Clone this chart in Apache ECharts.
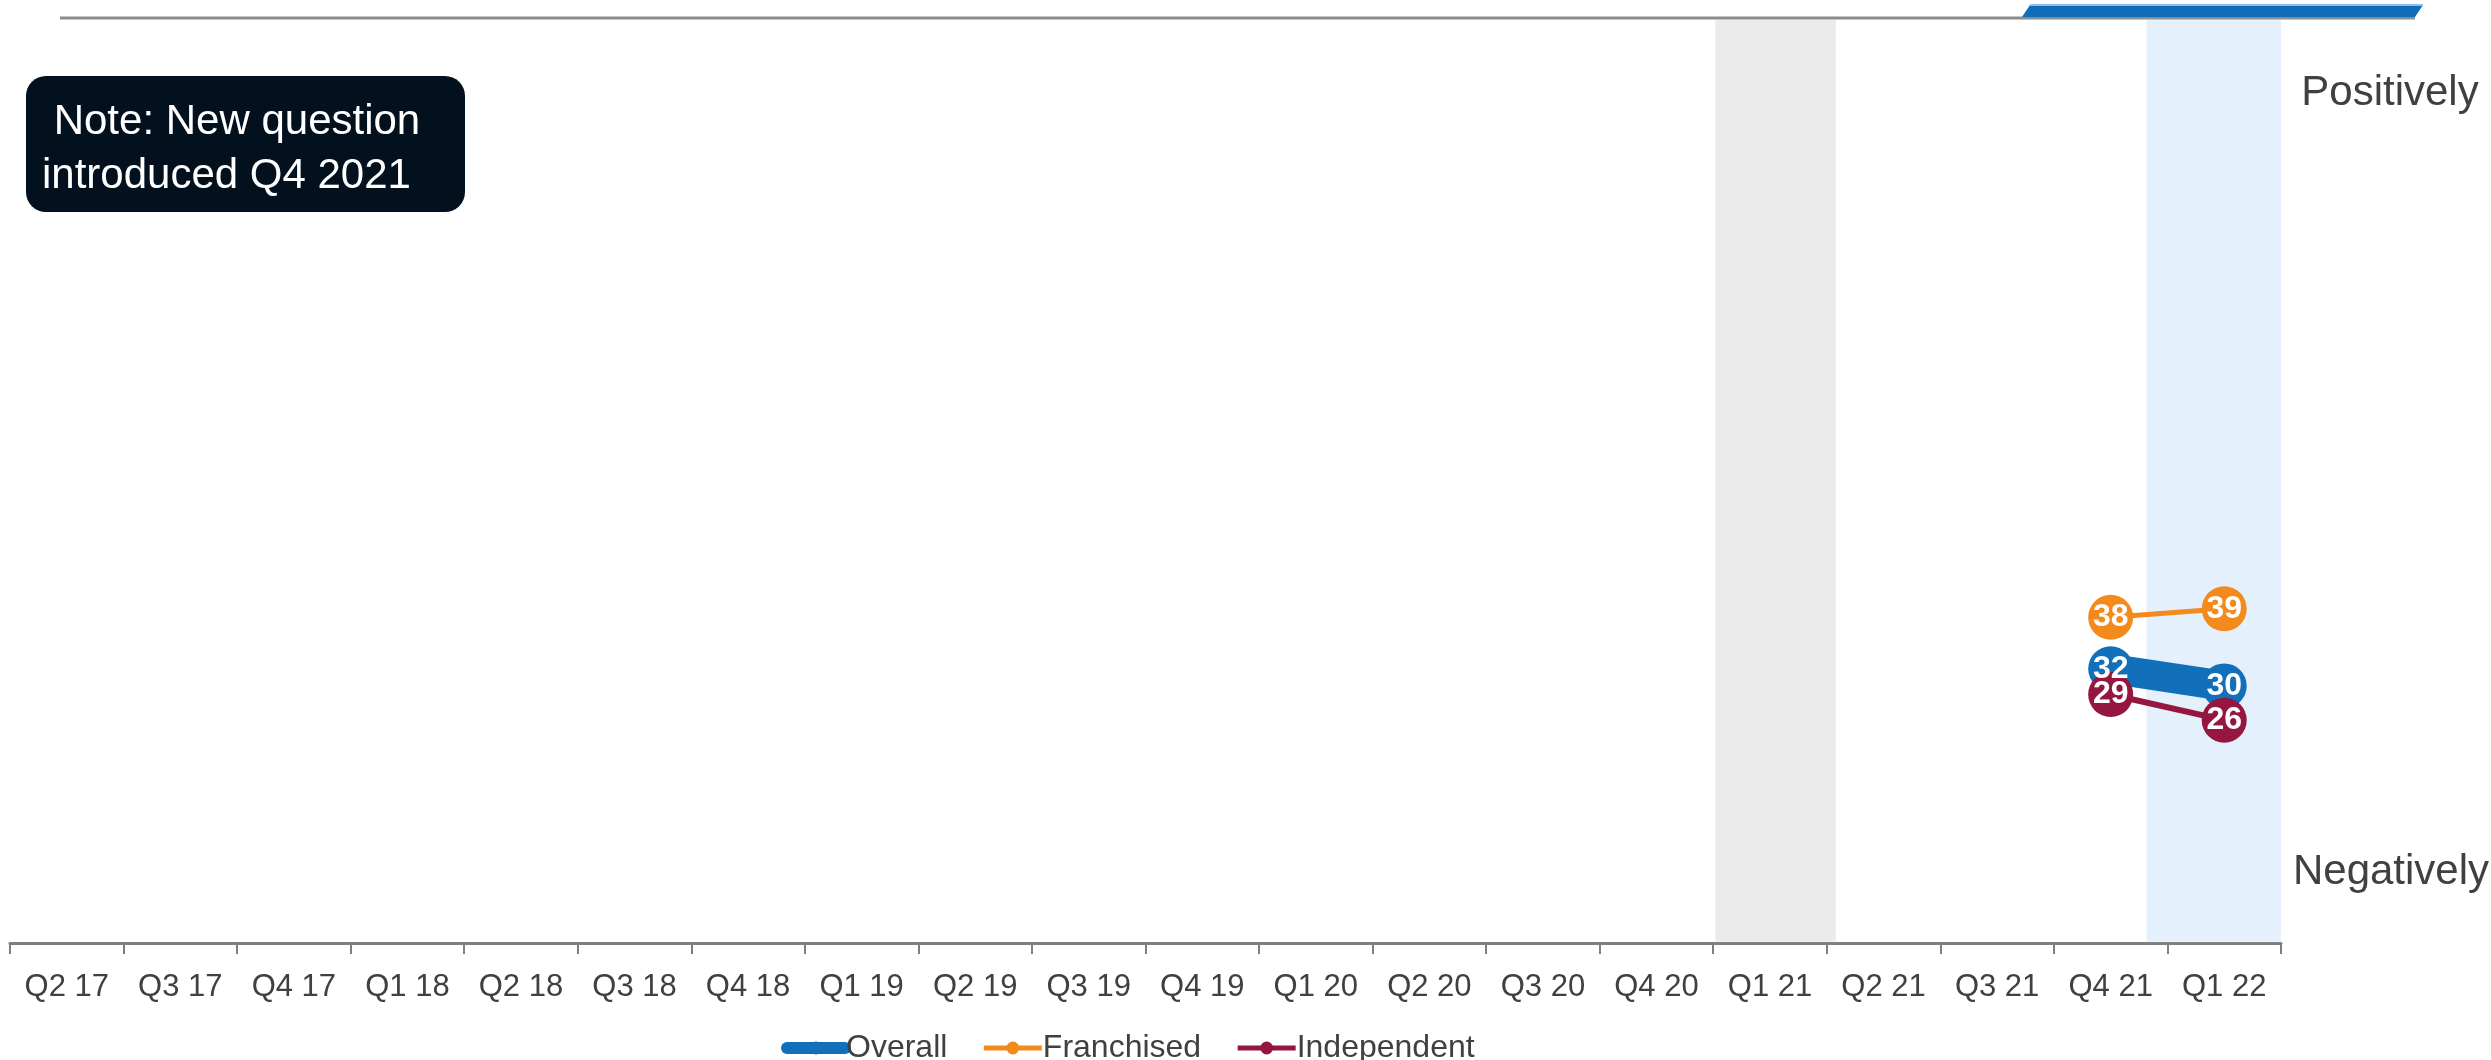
<!DOCTYPE html>
<html>
<head>
<meta charset="utf-8">
<script src="https://cdn.jsdelivr.net/npm/echarts@6/dist/echarts.min.js"></script>
<style>
  html, body { margin: 0; padding: 0; background: #ffffff; }
  #chart { width: 2491px; height: 1060px; }
</style>
</head>
<body>
<div id="chart"></div>
<script>
// ---- data ----
const categories = ['Q2 17', 'Q3 17', 'Q4 17', 'Q1 18', 'Q2 18', 'Q3 18', 'Q4 18',
  'Q1 19', 'Q2 19', 'Q3 19', 'Q4 19', 'Q1 20', 'Q2 20', 'Q3 20', 'Q4 20',
  'Q1 21', 'Q2 21', 'Q3 21', 'Q4 21', 'Q1 22'];
const seriesNames = ['Overall', 'Franchised', 'Independent'];
const overall = [null, null, null, null, null, null, null, null, null, null,
  null, null, null, null, null, null, null, null, 32, 30];
const franchised = [null, null, null, null, null, null, null, null, null, null,
  null, null, null, null, null, null, null, null, 38, 39];
const independent = [null, null, null, null, null, null, null, null, null, null,
  null, null, null, null, null, null, null, null, 29, 26];
const greyPeriods = ['Q1 21'];
const bluePeriods = ['Q1 22'];
const topLabel = 'Positively';
const bottomLabel = 'Negatively';
const noteLines = [' Note: New question', 'introduced Q4 2021'];

// ---- styles ----
const FONT = '"Liberation Sans", Arial, Helvetica, sans-serif';
const TEXT = '#404040';
const C_OVERALL = '#1170b9';
const C_FRAN = '#f28a1c';
const C_IND = '#95163f';

const chart = echarts.init(document.getElementById('chart'), null, { renderer: 'canvas' });

const bandItems = [];
greyPeriods.forEach(p => bandItems.push({ value: [categories.indexOf(p)], kind: 'grey' }));
bluePeriods.forEach(p => bandItems.push({ value: [categories.indexOf(p)], kind: 'blue' }));

function lineSeries(name, data, color, width) {
  return {
    name: name,
    type: 'line',
    data: data,
    z: 3,
    symbol: 'circle',
    symbolSize: 45,
    showAllSymbol: true,
    connectNulls: false,
    lineStyle: { color: color, width: width, cap: 'butt' },
    itemStyle: { color: color },
    emphasis: { disabled: true },
    label: {
      show: true,
      position: 'inside',
      color: '#ffffff',
      fontFamily: FONT,
      fontWeight: 'bold',
      fontSize: 32
    }
  };
}

const option = {
  animation: false,
  backgroundColor: '#ffffff',
  textStyle: { fontFamily: FONT },
  grid: { left: 10, right: 210, top: 20, bottom: 117, containLabel: false },
  xAxis: {
    type: 'category',
    data: categories,
    boundaryGap: true,
    axisLine: { show: true, lineStyle: { color: '#7f7f7f', width: 3 } },
    axisTick: { show: true, length: 11, lineStyle: { color: '#7f7f7f', width: 2 } },
    axisLabel: { color: TEXT, fontSize: 31, fontFamily: FONT, margin: 29, interval: 0 },
    splitLine: { show: false }
  },
  yAxis: {
    type: 'value',
    min: 0,
    max: 107.7,
    show: false
  },
  legend: {
    left: 776,
    top: 1027,
    itemWidth: 58,
    itemHeight: 16,
    itemGap: 34,
    textStyle: { color: TEXT, fontSize: 32, fontFamily: FONT, padding: [0, 0, 0, -4] },
    data: [
      { name: seriesNames[0], lineStyle: { width: 12, cap: 'round' } },
      { name: seriesNames[1], lineStyle: { width: 5 } },
      { name: seriesNames[2], lineStyle: { width: 5 } }
    ]
  },
  graphic: [
    // header rule
    { type: 'line', shape: { x1: 60, y1: 18, x2: 2415, y2: 18 }, style: { stroke: '#8c8c8c', lineWidth: 3 }, z: 10 },
    { type: 'polygon', shape: { points: [[2022, 17], [2030, 5], [2423, 5], [2415, 17]] }, style: { fill: '#106eb8' }, z: 11 },
    { type: 'line', shape: { x1: 2030, y1: 5, x2: 2423, y2: 5 }, style: { stroke: '#8fbfe8', lineWidth: 2 }, z: 12 },
    // note box
    { type: 'rect', shape: { x: 26, y: 76, width: 439, height: 136, r: 20 }, style: { fill: '#03111f' }, z: 10 },
    { type: 'text', x: 42, y: 95, z: 11,
      style: { text: noteLines.join('\n'), fill: '#ffffff', font: '42px ' + FONT, lineHeight: 54, textAlign: 'left', textVerticalAlign: 'top' } },
    // side labels
    { type: 'text', x: 2390, y: 93, z: 11,
      style: { text: topLabel, fill: TEXT, font: '42px ' + FONT, textAlign: 'center', textVerticalAlign: 'middle' } },
    { type: 'text', x: 2391, y: 872, z: 11,
      style: { text: bottomLabel, fill: TEXT, font: '42px ' + FONT, textAlign: 'center', textVerticalAlign: 'middle' } }
  ],
  series: [
    {
      type: 'custom',
      name: 'bands',
      z: 0,
      silent: true,
      data: bandItems,
      renderItem: function (params, api) {
        const idx = api.value(0);
        const c = api.coord([idx, 0]);
        const w = api.size([1, 0])[0];
        const cs = params.coordSys;
        const item = bandItems[params.dataIndex];
        let x0, x1, fill;
        if (item.kind === 'grey') {
          x0 = c[0] - w / 2 + 2; x1 = c[0] + w / 2 + 9; fill = '#ebebeb';
        } else {
          x0 = c[0] - w / 2 - 21; x1 = c[0] + w / 2; fill = '#e4f1fd';
        }
        return {
          type: 'rect',
          shape: { x: x0, y: cs.y, width: x1 - x0, height: cs.height - 1.5 },
          style: { fill: fill }
        };
      }
    },
    lineSeries(seriesNames[0], overall, C_OVERALL, 30),
    lineSeries(seriesNames[1], franchised, C_FRAN, 5),
    lineSeries(seriesNames[2], independent, C_IND, 6)
  ]
};

chart.setOption(option);
</script>
</body>
</html>
